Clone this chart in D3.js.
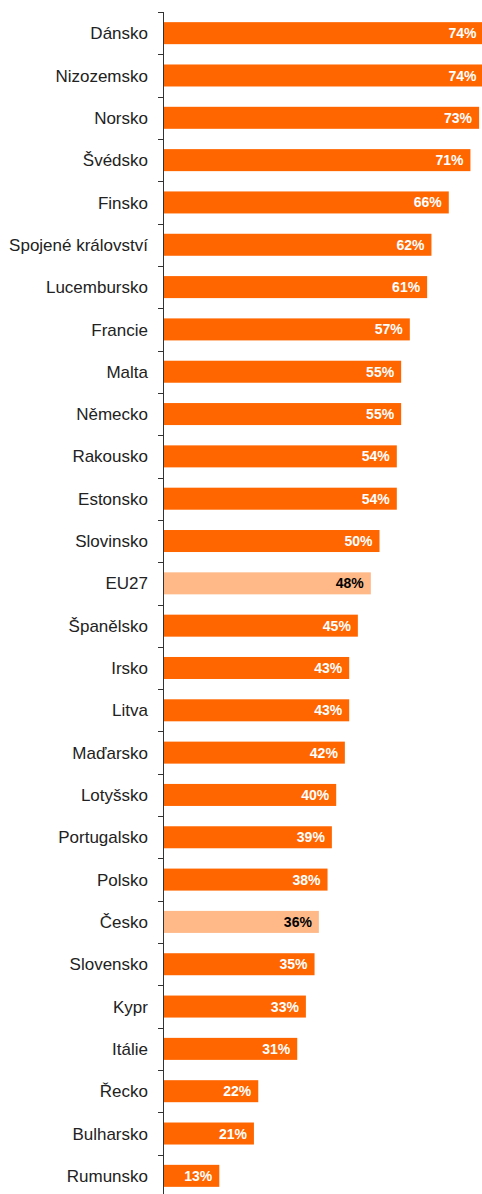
<!DOCTYPE html>
<html>
<head>
<meta charset="utf-8">
<script src="https://cdn.jsdelivr.net/npm/d3@7"></script>
<style>
  body { margin: 0; background: #fff; }
  svg { display: block; }
</style>
</head>
<body>
<svg width="482" height="1194"></svg>
<script>
const countries = ['Dánsko','Nizozemsko','Norsko','Švédsko','Finsko','Spojené království','Lucembursko','Francie','Malta','Německo','Rakousko','Estonsko','Slovinsko','EU27','Španělsko','Irsko','Litva','Maďarsko','Lotyšsko','Portugalsko','Polsko','Česko','Slovensko','Kypr','Itálie','Řecko','Bulharsko','Rumunsko'];
const values = [74,74,73,71,66,62,61,57,55,55,54,54,50,48,45,43,43,42,40,39,38,36,35,33,31,22,21,13];
const highlighted = ['EU27','Česko'];

const axisX = 163;
const svg = d3.select('svg');

const y = d3.scaleBand()
    .domain(countries)
    .range([12, 1197])
    .paddingInner(0.48)
    .paddingOuter(0.24);

const x = d3.scaleLinear()
    .domain([0, 100])
    .range([axisX, axisX + 433]);

const rows = countries.map((c, i) => ({name: c, value: values[i], hl: highlighted.includes(c)}));

// bars
svg.selectAll('rect.bar')
    .data(rows)
    .join('rect')
    .attr('class', 'bar')
    .attr('x', x(0))
    .attr('y', d => y(d.name))
    .attr('width', d => x(d.value) - x(0))
    .attr('height', y.bandwidth())
    .attr('fill', d => d.hl ? '#FFB989' : '#FF6600');

// value labels
svg.selectAll('text.val')
    .data(rows)
    .join('text')
    .attr('class', 'val')
    .attr('x', d => x(d.value) - 7)
    .attr('y', d => y(d.name) + y.bandwidth() / 2)
    .attr('dy', '0.36em')
    .attr('text-anchor', 'end')
    .style('font-family', 'Liberation Sans, Arial, sans-serif')
    .style('font-size', '14px')
    .style('font-weight', 'bold')
    .attr('fill', d => d.hl ? '#000' : '#fff')
    .text(d => d.value + '%');

// category labels
svg.selectAll('text.cat')
    .data(rows)
    .join('text')
    .attr('class', 'cat')
    .attr('x', 148)
    .attr('y', d => y(d.name) + y.bandwidth() / 2)
    .attr('dy', '0.36em')
    .attr('text-anchor', 'end')
    .style('font-family', 'Liberation Sans, Arial, sans-serif')
    .style('font-size', '17px')
    .attr('fill', '#222')
    .text(d => d.name);

// axis line + ticks between categories
const step = y.step();
const gap = (step - y.bandwidth()) / 2;
const bounds = countries.map(c => y(c) - gap);

svg.append('line')
    .attr('x1', axisX + 0.5).attr('x2', axisX + 0.5)
    .attr('y1', 12).attr('y2', 1197)
    .attr('stroke', '#333')
    .attr('stroke-width', 1);

svg.selectAll('line.tick')
    .data(bounds)
    .join('line')
    .attr('class', 'tick')
    .attr('x1', axisX - 5).attr('x2', axisX)
    .attr('y1', d => Math.round(d) + 0.5)
    .attr('y2', d => Math.round(d) + 0.5)
    .attr('stroke', '#333');
</script>
</body>
</html>
